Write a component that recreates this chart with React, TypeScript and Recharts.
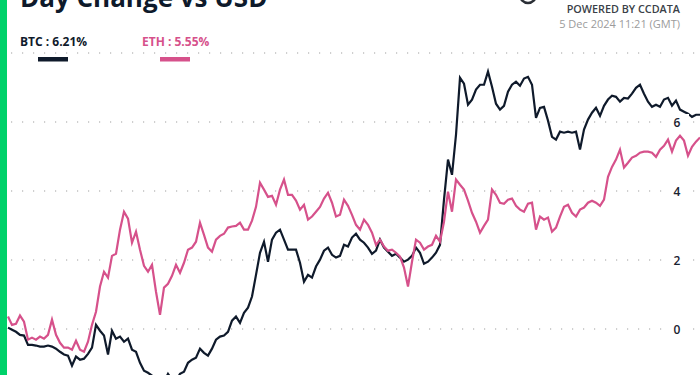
import { LineChart, Line, XAxis, YAxis, CartesianGrid } from "recharts";

// day change in %, one reading per ~4px of the original 24h chart
const btc = [
  0.04, -0.02, -0.08, -0.17, -0.19, -0.46, -0.46, -0.48, -0.51, -0.51,
  -0.48, -0.51, -0.57, -0.66, -0.74, -0.77, -1.06, -0.8, -0.89, -0.86,
  -0.72, -0.54, 0.12, -0.05, -0.19, -0.74, -0.05, -0.28, -0.22, -0.37,
  -0.28, -0.6, -0.66, -0.98, -1.21, -1.27, -1.35, -1.44, -1.5, -1.53,
  -1.3, -1.47, -1.5, -1.3, -1.24, -0.98, -0.89, -0.83, -0.57, -0.69,
  -0.77, -0.57, -0.31, -0.22, -0.19, -0.08, 0.24, 0.36, 0.18, 0.47,
  0.62, 0.94, 1.57, 2.21, 2.53, 1.95, 2.59, 2.79, 2.88, 2.59,
  2.3, 2.3, 2.3, 1.92, 1.37, 1.57, 1.49, 1.81, 2.01, 2.27,
  2.36, 2.15, 2.07, 2.12, 2.44, 2.39, 2.65, 2.76, 2.59, 2.5,
  2.36, 2.18, 2.27, 2.59, 2.36, 2.24, 2.12, 2.18, 2.07, 1.95,
  2.01, 2.12, 2.36, 2.21, 1.89, 1.95, 2.07, 2.21, 2.44, 3.75,
  4.91, 4.47, 5.63, 7.28, 7.11, 6.5, 6.65, 6.94, 7.08, 7.08,
  7.46, 7.02, 6.53, 6.36, 6.47, 6.88, 7.08, 7.17, 7.05, 7.26,
  7.31, 7.08, 6.12, 6.41, 6.44, 6.04, 5.57, 5.49, 5.72, 5.69,
  5.72, 5.69, 5.72, 5.2, 5.78, 6.07, 6.27, 6.41, 6.18, 6.47,
  6.65, 6.76, 6.73, 6.59, 6.7, 6.68, 6.82, 6.99, 7.08, 6.82,
  6.59, 6.44, 6.5, 6.44, 6.65, 6.7, 6.47, 6.62, 6.36, 6.3,
  6.24, 6.15, 6.21, 6.21,
];

const eth = [
  0.36, 0.12, 0.15, 0.39, 0.21, -0.31, -0.25, -0.31, -0.22, -0.28,
  -0.17, 0.27, -0.17, -0.4, -0.54, -0.54, -0.6, -0.34, -0.6, -0.66,
  -0.37, 0.12, 0.5, 1.23, 1.66, 1.49, 2.12, 2.18, 2.88, 3.4,
  3.2, 2.5, 2.82, 2.3, 1.83, 1.66, 1.86, 1.08, 0.41, 1.2,
  1.31, 1.54, 1.86, 1.63, 1.92, 2.3, 2.36, 2.53, 3.08, 2.73,
  2.36, 2.24, 2.59, 2.7, 2.76, 2.94, 2.97, 2.99, 3.08, 2.88,
  2.88, 3.14, 3.54, 4.24, 4.04, 3.83, 3.86, 3.6, 4.04, 4.33,
  3.89, 3.89, 3.72, 3.46, 3.6, 3.17, 3.26, 3.4, 3.54, 3.78,
  3.95, 3.66, 3.26, 3.31, 3.75, 3.57, 3.31, 3.02, 2.88, 3.17,
  3.02, 2.79, 2.44, 2.59, 2.39, 2.27, 2.3, 2.21, 2.1, 1.78,
  1.23, 1.95, 2.59, 2.5, 2.3, 2.39, 2.44, 2.7, 2.53, 3.11,
  3.98, 3.4, 4.33, 4.18, 4.04, 3.72, 3.37, 3.11, 2.79, 2.99,
  3.17, 4.04, 3.89, 3.66, 3.63, 3.75, 3.78, 3.57, 3.46, 3.4,
  3.63, 3.66, 2.88, 3.26, 3.17, 3.23, 2.82, 2.94, 3.26, 3.54,
  3.6, 3.37, 3.26, 3.46, 3.52, 3.66, 3.72, 3.66, 3.57, 3.75,
  4.41, 4.7, 4.91, 5.2, 4.68, 4.82, 4.97, 5.02, 5.11, 5.14,
  5.14, 5.11, 4.99, 5.2, 5.31, 5.49, 5.14, 5.46, 5.6, 5.46,
  5.02, 5.28, 5.43, 5.55,
];

const yTicks = [0, 2, 4, 6];

const title = "Day Change vs USD";
const btcLabel = "BTC : 6.21%";
const ethLabel = "ETH : 5.55%";
const poweredBy = "POWERED BY CCDATA";
const stamp = "5 Dec 2024 11:21 (GMT)";

const BTC_COLOR = "#0f1a2b";
const ETH_COLOR = "#d6518b";
const FONT = "'Open Sans', sans-serif";

const data = btc.map((v, i) => ({ i, btc: v, eth: eth[i] }));

function renderTick(props: any) {
  const { y, payload } = props;
  return (
    <g key={`t-${payload.value}`}>
      <rect x={667} y={y - 8} width={22} height={16} fill="#fff" />
      <text
        x={677}
        y={y}
        dy={4.5}
        textAnchor="middle"
        fontSize={12}
        fontWeight={600}
        fill="#1a2230"
        fontFamily={FONT}
      >
        {payload.value}
      </text>
    </g>
  );
}

export default function App() {
  return (
    <div
      style={{
        position: "absolute",
        left: 0,
        top: 0,
        width: 700,
        height: 375,
        overflow: "hidden",
        background: "#fff",
      }}
    >
      <LineChart
        width={700}
        height={400}
        data={data}
        margin={{ top: 53, right: 0, bottom: 2, left: 8 }}
      >
        <CartesianGrid
          vertical={false}
          stroke="#a0a0a0"
          strokeWidth={1.2}
          strokeDasharray="1.2 9.8"
          strokeDashoffset={8}
        />
        <XAxis dataKey="i" type="number" domain={[0, btc.length - 1]} hide />
        <YAxis
          orientation="right"
          mirror
          domain={[-2, 8]}
          ticks={yTicks}
          axisLine={false}
          tickLine={false}
          tick={renderTick}
        />
        <Line
          dataKey="btc"
          type="linear"
          stroke={BTC_COLOR}
          strokeWidth={2.2}
          dot={false}
          isAnimationActive={false}
        />
        <Line
          dataKey="eth"
          type="linear"
          stroke={ETH_COLOR}
          strokeWidth={2.2}
          dot={false}
          isAnimationActive={false}
        />
      </LineChart>

      <svg
        width={700}
        height={375}
        style={{ position: "absolute", left: 0, top: 0, pointerEvents: "none" }}
      >
        <rect x={0} y={0} width={7} height={375} fill="#00d26a" />
        <text x={20} y={7} fontSize={26} fontWeight={700} fill="#0e1a2b" fontFamily={FONT}>
          {title}
        </text>

        <text x={20} y={45.5} fontSize={12} fontWeight={700} fill={BTC_COLOR} fontFamily={FONT}>
          {btcLabel}
        </text>
        <rect x={38} y={57} width={30} height={4.5} fill={BTC_COLOR} />
        <text x={142} y={45.5} fontSize={12} fontWeight={700} fill={ETH_COLOR} fontFamily={FONT}>
          {ethLabel}
        </text>
        <rect x={160} y={57} width={30} height={4.5} fill={ETH_COLOR} />

        <circle cx={528} cy={-5} r={8} fill="none" stroke="#2b2f36" strokeWidth={2.5} />
        <text x={680} y={12.7} textAnchor="end" fontSize={10.8} fontWeight={600} fill="#3a3f48" fontFamily={FONT}>
          {poweredBy}
        </text>
        <text x={680} y={27.7} textAnchor="end" fontSize={11} fill="#9b9b9b" fontFamily={FONT}>
          {stamp}
        </text>
      </svg>
    </div>
  );
}
